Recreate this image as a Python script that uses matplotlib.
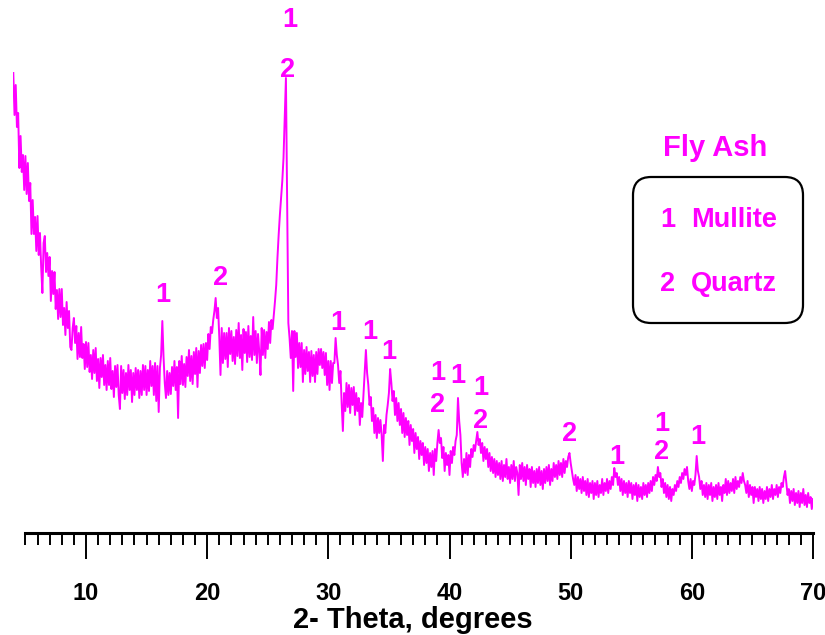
import numpy as np
import matplotlib
matplotlib.use("Agg")
import matplotlib.pyplot as plt
from matplotlib.patches import FancyBboxPatch

# XRD scan of fly ash (arbitrary counts), one row per degree
scan_start = 4.0
scan_step = 0.1
intensity = [
    460, 418, 448, 406, 420, 365, 397, 361, 378, 343,   # 4
    377, 339, 370, 332, 350, 299, 333, 299, 316, 282,   # 5
    317, 278, 300, 266, 240, 290, 297, 261, 280, 257,   # 6
    276, 232, 262, 239, 261, 224, 243, 214, 244, 216,   # 7
    244, 208, 225, 198, 231, 205, 222, 186, 183, 205,   # 8
    215, 190, 207, 174, 200, 176, 206, 175, 189, 164,   # 9
    191, 166, 190, 161, 178, 154, 183, 160, 185, 152,   # 10
    174, 145, 175, 156, 178, 148, 168, 143, 172, 148,   # 11
    175, 144, 162, 136, 167, 146, 168, 138, 124, 167,   # 12
    140, 163, 134, 160, 138, 168, 143, 163, 131, 160,   # 13
    138, 165, 143, 163, 135, 162, 138, 168, 143, 167,   # 14
    138, 163, 142, 172, 147, 167, 138, 170, 132, 167,   # 15
    121, 165, 178, 212, 176, 150, 135, 162, 138, 160,   # 16
    139, 166, 147, 172, 143, 166, 115, 172, 149, 177,   # 17
    148, 169, 146, 176, 157, 183, 152, 177, 149, 181,   # 18
    159, 185, 146, 182, 160, 188, 167, 189, 165, 190,   # 19
    173, 199, 184, 206, 200, 213, 222, 235, 215, 225,   # 20
    196, 158, 205, 170, 200, 174, 200, 166, 205, 179,   # 21
    202, 172, 196, 169, 203, 177, 210, 175, 198, 163,   # 22
    204, 180, 201, 171, 207, 176, 197, 173, 216, 178,   # 23
    202, 170, 199, 181, 158, 205, 178, 203, 175, 201,   # 24
    184, 211, 190, 213, 204, 218, 232, 248, 275, 298,   # 25
    318, 335, 352, 375, 415, 455, 330, 210, 195, 175,   # 26
    202, 142, 202, 176, 200, 165, 190, 166, 190, 151,   # 27
    183, 159, 186, 162, 181, 151, 182, 157, 178, 151,   # 28
    181, 159, 184, 168, 184, 165, 181, 158, 180, 148,   # 29
    172, 143, 172, 150, 170, 170, 195, 178, 168, 150,   # 30
    162, 130, 102, 140, 122, 150, 126, 148, 120, 145,   # 31
    128, 146, 118, 140, 122, 135, 108, 130, 116, 138,   # 32
    158, 183, 160, 148, 128, 136, 112, 125, 100, 118,   # 33
    95, 115, 100, 113, 98, 72, 108, 100, 118, 128,      # 34
    140, 164, 150, 132, 142, 118, 135, 112, 130, 108,   # 35
    124, 100, 120, 96, 115, 98, 112, 88, 108, 92,       # 36
    104, 80, 100, 84, 96, 74, 92, 78, 90, 68,           # 37
    86, 70, 84, 62, 80, 66, 82, 58, 84, 72,             # 38
    90, 103, 90, 95, 75, 86, 62, 80, 68, 78,            # 39
    58, 82, 70, 86, 78, 92, 98, 135, 112, 98,           # 40
    70, 56, 74, 60, 80, 58, 78, 66, 84, 76,             # 41
    88, 82, 92, 101, 88, 94, 80, 90, 72, 86,            # 42
    74, 84, 66, 80, 62, 76, 60, 74, 56, 72,             # 43
    58, 70, 54, 72, 52, 68, 56, 74, 54, 66,             # 44
    50, 68, 54, 72, 52, 66, 60, 38, 68, 54,             # 45
    70, 52, 66, 48, 68, 54, 64, 46, 66, 50,             # 46
    62, 46, 64, 50, 66, 48, 62, 44, 64, 50,             # 47
    66, 52, 68, 48, 64, 52, 70, 56, 68, 54,             # 48
    72, 58, 70, 56, 74, 60, 72, 66, 76, 80,             # 49
    70, 62, 54, 48, 58, 42, 56, 44, 54, 40,             # 50
    56, 42, 52, 38, 54, 36, 50, 40, 52, 34,             # 51
    50, 38, 52, 36, 48, 40, 54, 38, 50, 42,             # 52
    54, 40, 52, 44, 56, 48, 65, 56, 60, 48,             # 53
    56, 42, 54, 38, 52, 40, 50, 36, 52, 40,             # 54
    50, 34, 48, 38, 50, 32, 48, 36, 46, 34,             # 55
    50, 38, 48, 36, 50, 40, 52, 42, 56, 48,             # 56
    58, 52, 66, 56, 60, 46, 54, 40, 50, 36,             # 57
    48, 34, 46, 32, 44, 38, 48, 42, 52, 46,             # 58
    56, 50, 60, 54, 64, 58, 66, 52, 44, 54,             # 59
    42, 52, 48, 58, 77, 62, 56, 44, 52, 38,             # 60
    48, 36, 50, 34, 48, 38, 50, 32, 46, 36,             # 61
    48, 34, 50, 38, 46, 32, 48, 40, 54, 38,             # 62
    52, 40, 50, 42, 54, 40, 56, 44, 52, 46,             # 63
    56, 50, 60, 52, 48, 40, 52, 36, 48, 38,             # 64
    46, 30, 46, 36, 44, 32, 46, 34, 44, 30,             # 65
    42, 34, 46, 32, 44, 36, 48, 34, 44, 38,             # 66
    48, 36, 46, 40, 50, 46, 56, 62, 50, 38,             # 67
    44, 30, 42, 32, 44, 28, 40, 30, 42, 26,             # 68
    40, 30, 44, 28, 38, 26, 40, 30, 36, 24,             # 69
    34,                                                 # 70
]
two_theta = scan_start + scan_step * np.arange(len(intensity))

# peak markers: 1 = mullite, 2 = quartz
peak_labels = ["1", "2", "1", "2", "1", "1", "1", "1", "2", "1", "1", "2",
               "2", "1", "1", "2", "1"]
peak_x = [16.3, 21.1, 26.8, 26.6, 30.8, 33.4, 35.0, 39.0, 39.0, 40.7, 42.6, 42.6,
          49.9, 53.8, 57.5, 57.5, 60.5]
peak_y = [238, 255, 513, 463, 210, 201, 181, 160, 128, 157, 145, 112,
          99, 76, 109, 81, 96]

legend_title = "Fly Ash"
legend_items = [("1", "Mullite"), ("2", "Quartz")]
major_ticks = [10, 20, 30, 40, 50, 60, 70]

pink = "#FF00FF"
font = "Liberation Sans"

fig = plt.figure(figsize=(8.25, 6.35), dpi=100)
ax = fig.add_axes([13.3 / 825, 102 / 635, 799.7 / 825, 533 / 635])
ax.plot(two_theta, intensity, color=pink, lw=1.4)
ax.set_xlim(4, 70)
ax.set_ylim(0, 533)

for s in ["left", "right", "top"]:
    ax.spines[s].set_visible(False)
ax.spines["bottom"].set_bounds(5, 70)
ax.spines["bottom"].set_linewidth(2.2)
ax.set_yticks([])
ax.set_xticks(major_ticks)
ax.set_xticks(np.arange(5, 71, 1), minor=True)
ax.tick_params(axis="x", which="major", length=19, width=1.4, pad=16)
ax.tick_params(axis="x", which="minor", length=8.5, width=1.4)
for lab in ax.get_xticklabels():
    lab.set_fontfamily(font)
    lab.set_fontweight("bold")
    lab.set_fontsize(17)
ax.set_xlabel("2- Theta, degrees", fontfamily=font, fontweight="bold",
              fontsize=21, labelpad=1)

for lab, x, y in zip(peak_labels, peak_x, peak_y):
    ax.text(x, y, lab, color=pink, fontfamily=font, fontweight="bold",
            fontsize=19.5, ha="center", va="center")

# legend box drawn in figure pixels
def fx(px):
    return px / 825

def fy(py):
    return 1 - py / 635

fig.text(fx(715), fy(148), legend_title, color=pink, fontfamily=font,
         fontweight="bold", fontsize=21, ha="center", va="center")
box = FancyBboxPatch((fx(633), fy(323)), fx(803) - fx(633), fy(177) - fy(323),
                     boxstyle="round,pad=0,rounding_size=0.022",
                     transform=fig.transFigure, fill=False, ec="black", lw=1.6,
                     mutation_aspect=825 / 635)
fig.patches.append(box)
for (num, name), py in zip(legend_items, [220, 284]):
    fig.text(fx(668), fy(py), num, color=pink, fontfamily=font,
             fontweight="bold", fontsize=19.5, ha="center", va="center")
    fig.text(fx(691), fy(py), name, color=pink, fontfamily=font,
             fontweight="bold", fontsize=19.5, ha="left", va="center")

fig.savefig("out.png", dpi=100)
